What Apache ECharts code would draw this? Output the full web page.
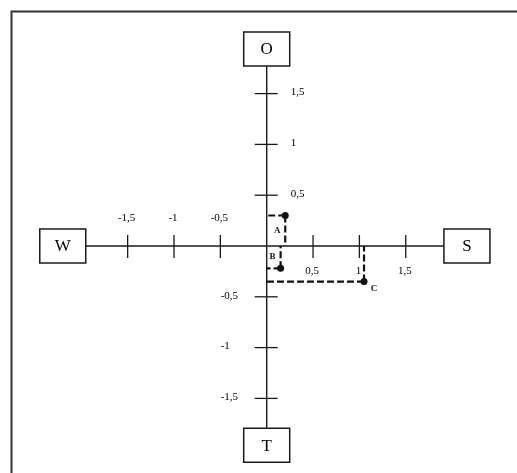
<!DOCTYPE html>
<html><head><meta charset="utf-8">
<script src="https://cdn.jsdelivr.net/npm/echarts@6/dist/echarts.min.js"></script>
<style>html,body{margin:0;padding:0;background:#fff}#c{width:517px;height:473px}</style>
</head><body><div id="c"></div>
<script>
// ---- data ----
const xTickValues = [-1.5, -1, -0.5, 0.5, 1, 1.5];
const xTickLabels = ['-1,5', '-1', '-0,5', '0,5', '1', '1,5'];
const yTickValues = [-1.5, -1, -0.5, 0.5, 1, 1.5];
const yTickLabels = ['-1,5', '-1', '-0,5', '0,5', '1', '1,5'];
const pointNames = ['A', 'B', 'C'];
const pointX = [0.2, 0.15, 1.05];
const pointY = [0.3, -0.22, -0.35];
const poleNames = ['O', 'W', 'S', 'T'];

// ---- layout / style ----
const FONT = '"Liberation Serif", "Times New Roman", serif';
const INK = '#1a1a1a';
const BOX_W = 46, BOX_H = 34;
const POLE_POS = { O: [0, 1.94], W: [-2.2, 0], S: [2.16, 0], T: [0, -1.96] };
const LABEL_OFF = { A: [-8, 15], B: [-8, -12], C: [10, 7] };

const chart = echarts.init(document.getElementById('c'));

function box(api, name) {
  const c = api.coord(POLE_POS[name]);
  return { x: c[0] - BOX_W / 2, y: c[1] - BOX_H / 2, w: BOX_W, h: BOX_H, cx: c[0], cy: c[1] };
}

const option = {
  animation: false,
  grid: { left: 81.3, width: 370.8, top: 42.8, height: 406.4 },
  xAxis: { type: 'value', min: -2, max: 2, show: false },
  yAxis: { type: 'value', min: -2, max: 2, show: false },
  graphic: [{
    type: 'rect', left: 9, top: 9,
    shape: { width: 600, height: 600 },
    style: { fill: 'none', stroke: '#333', lineWidth: 2 }
  }],
  series: [
    { // axis lines
      type: 'custom', data: [[0, 0]], silent: true,
      renderItem: (params, api) => {
        const o = box(api, 'O'), t = box(api, 'T'), w = box(api, 'W'), s = box(api, 'S');
        const org = api.coord([0, 0]);
        return { type: 'group', children: [
          { type: 'line', shape: { x1: w.x + w.w, y1: org[1], x2: s.x, y2: org[1] }, style: { stroke: INK, lineWidth: 1.4 } },
          { type: 'line', shape: { x1: org[0], y1: o.y + o.h, x2: org[0], y2: t.y }, style: { stroke: INK, lineWidth: 1.4 } }
        ] };
      }
    },
    { // pole boxes
      type: 'custom', silent: true,
      data: poleNames.map(n => [POLE_POS[n][0], POLE_POS[n][1], n]),
      renderItem: (params, api) => {
        const n = poleNames[params.dataIndex];
        const b = box(api, n);
        return { type: 'group', children: [
          { type: 'rect', shape: { x: b.x, y: b.y, width: b.w, height: b.h }, style: { fill: '#fff', stroke: INK, lineWidth: 1.5 } },
          { type: 'text', x: b.cx, y: b.cy + 1, style: { text: n, fill: '#000', font: '17px ' + FONT, align: 'center', verticalAlign: 'middle' } }
        ] };
      }
    },
    { // x ticks
      type: 'custom', silent: true,
      data: xTickValues.map((v, i) => [v, 0, xTickLabels[i]]),
      renderItem: (params, api) => {
        const v = xTickValues[params.dataIndex];
        const p = api.coord([v, 0]);
        const below = v > 0;
        return { type: 'group', children: [
          { type: 'line', shape: { x1: p[0], y1: p[1] - 11, x2: p[0], y2: p[1] + 12 }, style: { stroke: INK, lineWidth: 1.3 } },
          { type: 'text', x: p[0] - 1, y: below ? p[1] + 25 : p[1] - 28, style: { text: xTickLabels[params.dataIndex], fill: '#000', font: '11px ' + FONT, align: 'center', verticalAlign: 'middle' } }
        ] };
      }
    },
    { // y ticks
      type: 'custom', silent: true,
      data: yTickValues.map((v, i) => [0, v, yTickLabels[i]]),
      renderItem: (params, api) => {
        const v = yTickValues[params.dataIndex];
        const p = api.coord([0, v]);
        const right = v > 0;
        return { type: 'group', children: [
          { type: 'line', shape: { x1: p[0] - 12, y1: p[1], x2: p[0] + 11, y2: p[1] }, style: { stroke: INK, lineWidth: 1.3 } },
          { type: 'text', x: right ? p[0] + 24 : p[0] - 46, y: p[1] - 1, style: { text: yTickLabels[params.dataIndex], fill: '#000', font: '11px ' + FONT, align: 'left', verticalAlign: 'middle' } }
        ] };
      }
    },
    { // points with guide lines
      type: 'custom', silent: true,
      data: pointNames.map((n, i) => [pointX[i], pointY[i], n]),
      renderItem: (params, api) => {
        const i = params.dataIndex;
        const x = api.value(0), y = api.value(1);
        const p = api.coord([x, y]);
        const px = api.coord([x, 0]);
        const py = api.coord([0, y]);
        const dash = { stroke: '#111', lineWidth: 2.2, lineDash: [7, 3] };
        const off = LABEL_OFF[pointNames[i]];
        return { type: 'group', children: [
          { type: 'line', shape: { x1: p[0], y1: p[1], x2: py[0], y2: py[1] }, style: dash },
          { type: 'line', shape: { x1: p[0], y1: p[1], x2: px[0], y2: px[1] }, style: dash },
          { type: 'circle', shape: { cx: p[0], cy: p[1], r: 3.5 }, style: { fill: '#111' } },
          { type: 'text', x: p[0] + off[0], y: p[1] + off[1], style: { text: pointNames[i], fill: '#111', font: 'bold 9px ' + FONT, align: 'center', verticalAlign: 'middle' } }
        ] };
      }
    }
  ]
};
chart.setOption(option);
</script>
</body></html>
